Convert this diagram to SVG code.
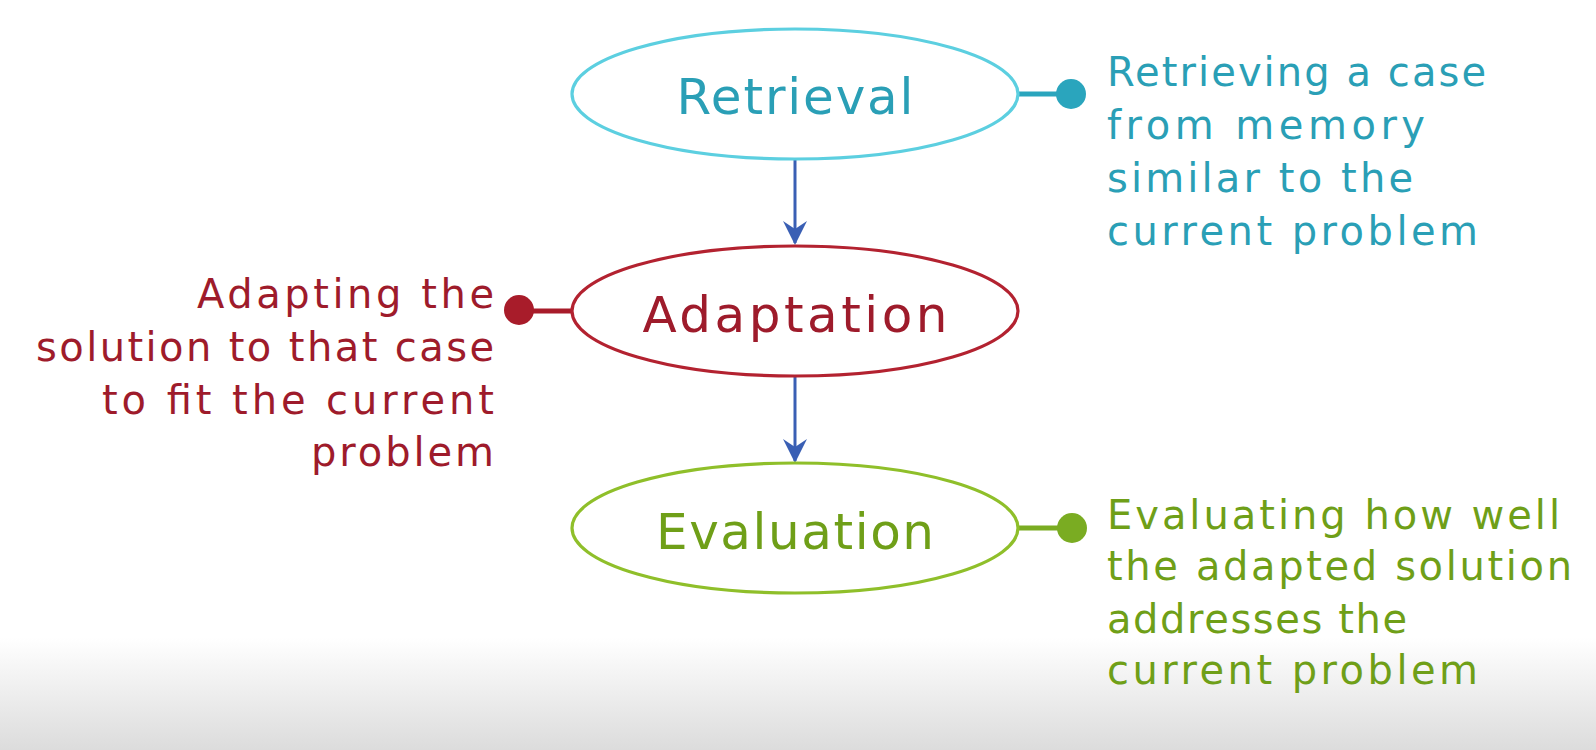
<svg xmlns="http://www.w3.org/2000/svg" width="1596" height="750" viewBox="0 0 1596 750">
<defs>
<linearGradient id="bg" x1="0" y1="0" x2="0" y2="1">
<stop offset="0" stop-color="#ffffff"/>
<stop offset="0.85" stop-color="#ffffff"/>
<stop offset="1" stop-color="#dcdcdc"/>
</linearGradient>
<marker id="arr" viewBox="0 0 12 12" refX="11" refY="6" markerWidth="8" markerHeight="8" markerUnits="strokeWidth" orient="auto">
<path d="M0,0 L12,6 L0,12 L4,6 z" fill="#3a5fb4"/>
</marker>
<style>
.node{fill:#ffffff;stroke-width:3.2}
.lbl{font-family:"DejaVu Sans","Liberation Sans",sans-serif;font-size:50px;text-anchor:middle}
.side{font-family:"DejaVu Sans","Liberation Sans",sans-serif;font-size:40px}
.arrow{stroke:#3a5fb4;stroke-width:3;fill:none}
.c1{fill:#2a9fb6}.s1{stroke:#5ccfe0}
.c2{fill:#9e1b2b}.s2{stroke:#b32230}
.c3{fill:#6f9f18}.s3{stroke:#8fbf2a}
</style>
</defs>
<rect x="0" y="0" width="1596" height="750" fill="url(#bg)"/>
<g id="connectors">
<line class="arrow" x1="795" y1="160" x2="795" y2="243" marker-end="url(#arr)"/>
<line class="arrow" x1="795" y1="377" x2="795" y2="461" marker-end="url(#arr)"/>
<line x1="1018" y1="94" x2="1064" y2="94" stroke="#2aa5bd" stroke-width="5"/>
<circle cx="1071" cy="94" r="15" fill="#2aa5bd"/>
<line x1="572" y1="311" x2="526" y2="311" stroke="#a81c2a" stroke-width="5"/>
<circle cx="519" cy="310" r="15" fill="#a81c2a"/>
<line x1="1018" y1="528" x2="1064" y2="528" stroke="#7aac22" stroke-width="5"/>
<circle cx="1072" cy="528" r="15" fill="#7aac22"/>
</g>
<g id="retrieval">
<ellipse class="node s1" cx="795" cy="94" rx="223" ry="65"/>
<text class="lbl c1" x="795" y="114" textLength="237" lengthAdjust="spacing">Retrieval</text>
</g>
<g id="adaptation">
<ellipse class="node s2" cx="795" cy="311" rx="223" ry="65"/>
<text class="lbl c2" x="795" y="332" textLength="305" lengthAdjust="spacing">Adaptation</text>
</g>
<g id="evaluation">
<ellipse class="node s3" cx="795" cy="528" rx="223" ry="65"/>
<text class="lbl c3" x="795" y="549" textLength="278" lengthAdjust="spacing">Evaluation</text>
</g>
<g id="retrieval-note" class="side c1">
<text x="1107" y="86" textLength="379" lengthAdjust="spacing">Retrieving a case</text>
<text x="1107" y="139" textLength="318" lengthAdjust="spacing">from memory</text>
<text x="1107" y="192" textLength="306" lengthAdjust="spacing">similar to the</text>
<text x="1107" y="245" textLength="371" lengthAdjust="spacing">current problem</text>
</g>
<g id="adaptation-note" class="side c2" text-anchor="end">
<text x="494" y="308" textLength="297" lengthAdjust="spacing">Adapting the</text>
<text x="494" y="361" textLength="458" lengthAdjust="spacing">solution to that case</text>
<text x="494" y="414" textLength="392" lengthAdjust="spacing">to fit the current</text>
<text x="494" y="466" textLength="183" lengthAdjust="spacing">problem</text>
</g>
<g id="evaluation-note" class="side c3">
<text x="1107" y="529" textLength="453" lengthAdjust="spacing">Evaluating how well</text>
<text x="1107" y="580" textLength="465" lengthAdjust="spacing">the adapted solution</text>
<text x="1107" y="633" textLength="300" lengthAdjust="spacing">addresses the</text>
<text x="1107" y="684" textLength="371" lengthAdjust="spacing">current problem</text>
</g>
</svg>
